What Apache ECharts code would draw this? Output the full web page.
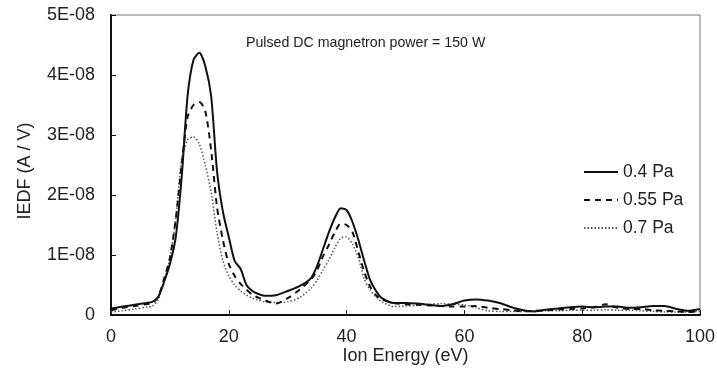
<!DOCTYPE html>
<html>
<head>
<meta charset="utf-8">
<script src="https://cdn.jsdelivr.net/npm/echarts@6/dist/echarts.min.js"></script>
<style>html,body{margin:0;padding:0;background:#fff}#c{width:717px;height:368px}</style>
</head>
<body>
<div id="c"></div>
<script>
// Ion energy (eV)
const energy = [0,2,4,6,7,8,9,10,11,12,13,14,15,16,17,18,19,20,21,22,23,24,25,26,28,30,32,34,35,36,37,38,39,40,41,42,43,44,45,46,48,50,52,54,56,58,60,62,64,66,68,70,72,74,76,78,80,82,84,86,88,90,92,94,96,98,100];
// IEDF values in units of 1E-08 A/V
const p04 = [0.11,0.14,0.17,0.2,0.22,0.3,0.55,0.85,1.3,2.3,3.65,4.25,4.37,4.15,3.65,2.4,1.72,1.3,0.9,0.77,0.5,0.4,0.35,0.32,0.33,0.4,0.48,0.62,0.82,1.1,1.38,1.62,1.78,1.75,1.55,1.25,0.9,0.58,0.4,0.28,0.2,0.2,0.19,0.17,0.15,0.18,0.24,0.26,0.24,0.2,0.13,0.08,0.06,0.09,0.11,0.13,0.14,0.13,0.14,0.14,0.12,0.13,0.15,0.15,0.1,0.07,0.1];
const p055 = [0.08,0.12,0.15,0.18,0.2,0.3,0.6,0.95,1.6,2.5,3.3,3.5,3.55,3.4,2.75,1.8,1.25,0.85,0.65,0.52,0.42,0.34,0.29,0.25,0.19,0.28,0.42,0.6,0.75,0.98,1.17,1.38,1.52,1.5,1.38,1.05,0.72,0.47,0.33,0.26,0.2,0.18,0.17,0.16,0.15,0.14,0.14,0.15,0.12,0.1,0.08,0.06,0.07,0.08,0.09,0.1,0.11,0.13,0.18,0.12,0.1,0.1,0.08,0.07,0.06,0.05,0.07];
const p07 = [0.05,0.07,0.1,0.13,0.15,0.25,0.55,0.95,1.6,2.6,2.92,2.97,2.85,2.5,2.05,1.38,0.9,0.65,0.5,0.4,0.33,0.28,0.25,0.22,0.21,0.22,0.29,0.45,0.58,0.75,0.92,1.12,1.28,1.3,1.18,0.95,0.6,0.42,0.3,0.22,0.14,0.15,0.16,0.18,0.19,0.18,0.17,0.12,0.07,0.06,0.06,0.06,0.07,0.07,0.07,0.08,0.08,0.08,0.09,0.08,0.08,0.07,0.06,0.05,0.05,0.05,0.06];
const seriesNames = ['0.4 Pa','0.55 Pa','0.7 Pa'];
const titleText = 'Pulsed DC magnetron power = 150 W';

const toPairs = arr => energy.map((e,i)=>[e, arr[i]*1e-8]);
const font = 'Liberation Sans, Arial, sans-serif';
const chart = echarts.init(document.getElementById('c'));
chart.setOption({
  animation:false,
  backgroundColor:'#fff',
  title:{text:titleText,left:241,top:31,textStyle:{fontFamily:font,fontSize:14.2,fontWeight:'normal',color:'#222'}},
  legend:{orient:'vertical',left:578,top:158,itemWidth:34,itemHeight:14,itemGap:10,
    itemStyle:{opacity:0},
    textStyle:{fontFamily:font,fontSize:17.5,color:'#222'},
    data:seriesNames},
  grid:{left:111,right:17,top:15,bottom:53,show:true,borderColor:'#777',borderWidth:1,
    outerBoundsMode:'none',containLabel:false},
  xAxis:{type:'value',min:0,max:100,interval:20,
    name:'Ion Energy (eV)',nameLocation:'middle',nameGap:32,nameMoveOverlap:false,
    nameTextStyle:{fontFamily:font,fontSize:18,color:'#222'},
    axisLine:{show:true,lineStyle:{color:'#111',width:2}},
    axisTick:{show:true,inside:true,length:5,lineStyle:{color:'#111'}},
    axisLabel:{fontFamily:font,fontSize:18,color:'#222',margin:13},
    splitLine:{show:false}},
  yAxis:{type:'value',min:0,max:5e-8,interval:1e-8,
    name:'IEDF (A / V)',nameLocation:'middle',nameGap:77,nameMoveOverlap:false,
    nameTextStyle:{fontFamily:font,fontSize:18,color:'#222',padding:[0,12,0,0]},
    axisLine:{show:true,lineStyle:{color:'#111',width:2}},
    axisTick:{show:true,inside:true,length:5,lineStyle:{color:'#111'}},
    axisLabel:{fontFamily:font,fontSize:18,color:'#222',margin:16,
      formatter:v=>{const n=Math.round(v*1e8);return n===0?'0':n+'E-08';}},
    splitLine:{show:false}},
  series:[
    {name:seriesNames[0],type:'line',data:toPairs(p04),showSymbol:false,symbol:'none',smooth:0.25,
      lineStyle:{color:'#111',width:2,type:'solid'},itemStyle:{color:'#111'},z:5},
    {name:seriesNames[1],type:'line',data:toPairs(p055),showSymbol:false,symbol:'none',smooth:0.25,
      lineStyle:{color:'#111',width:2,type:[6,5]},itemStyle:{color:'#111'},z:4},
    {name:seriesNames[2],type:'line',data:toPairs(p07),showSymbol:false,symbol:'none',smooth:0.25,
      lineStyle:{color:'#555',width:1.5,type:[1.5,2]},itemStyle:{color:'#555'},z:3}
  ]
});
</script>
</body>
</html>
